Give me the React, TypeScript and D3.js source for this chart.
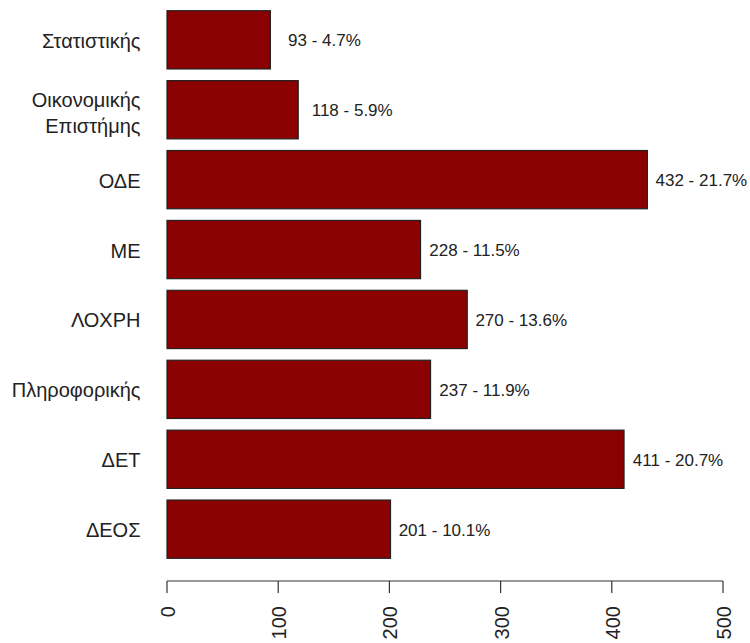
import React from "react";
import * as d3 from "d3";

const categories: string[][] = [
  ["Στατιστικής"],
  ["Οικονομικής", "Επιστήμης"],
  ["ΟΔΕ"],
  ["ΜΕ"],
  ["ΛΟΧΡΗ"],
  ["Πληροφορικής"],
  ["ΔΕΤ"],
  ["ΔΕΟΣ"],
];
const values: number[] = [93, 118, 432, 228, 270, 237, 411, 201];
const xTicks: number[] = [0, 100, 200, 300, 400, 500];

const W = 750;
const H = 643;
const FONT = "Arial, 'Liberation Sans', sans-serif";

export default function App() {
  const total = d3.sum(values);
  const x = d3.scaleLinear().domain([0, 500]).range([167, 723]);
  const y = d3
    .scaleBand<number>()
    .domain(values.map((_, i) => i))
    .range([10.7, 558.3])
    .paddingInner(1 / 6)
    .paddingOuter(0);
  const axisY = 581;

  return (
    <svg
      width={W}
      height={H}
      style={{ position: "absolute", left: 0, top: 0, background: "#fff" }}
      fontFamily={FONT}
    >
      {values.map((v, i) => {
        const y0 = y(i)!;
        const bw = y.bandwidth();
        const cy = y0 + bw / 2;
        const lines = categories[i];
        const pct = ((v / total) * 100).toFixed(1);
        return (
          <g key={i}>
            <rect
              x={x(0)}
              y={y0}
              width={x(v) - x(0)}
              height={bw}
              fill="#8B0000"
              stroke="#222"
              strokeWidth={1.2}
            />
            <text
              x={x(v) + 54}
              y={cy + 1}
              textAnchor="middle"
              dominantBaseline="central"
              fontSize={17}
              fill="#222"
            >
              {`${v} - ${pct}%`}
            </text>
            {lines.map((ln, k) => (
              <text
                key={k}
                x={140.5}
                y={cy + (k - (lines.length - 1) / 2) * 26 + (lines.length > 1 ? 3 : 1)}
                textAnchor="end"
                dominantBaseline="central"
                fontSize={20}
                fill="#222"
              >
                {ln}
              </text>
            ))}
          </g>
        );
      })}
      <line
        x1={x(0)}
        x2={x(500)}
        y1={axisY}
        y2={axisY}
        stroke="#333"
        strokeWidth={1.2}
      />
      {xTicks.map((t) => (
        <g key={t}>
          <line
            x1={x(t)}
            x2={x(t)}
            y1={axisY}
            y2={axisY + 12}
            stroke="#333"
            strokeWidth={1.2}
          />
          <text
            transform={`translate(${x(t) + 1},${606}) rotate(-90)`}
            textAnchor="end"
            dominantBaseline="central"
            fontSize={20}
            fill="#222"
          >
            {t}
          </text>
        </g>
      ))}
    </svg>
  );
}
